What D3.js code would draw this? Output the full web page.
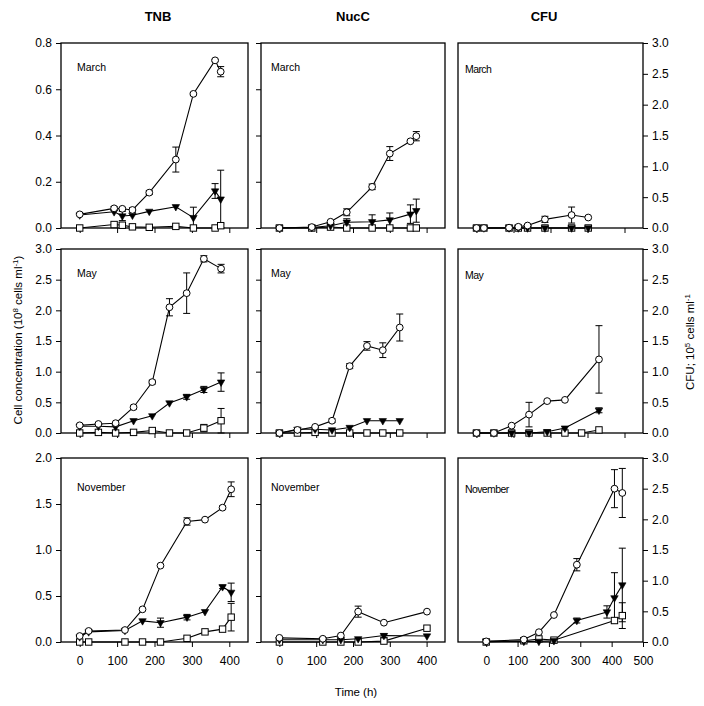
<!DOCTYPE html>
<html>
<head>
<meta charset="utf-8">
<script src="https://cdn.jsdelivr.net/npm/d3@7"></script>
<style>
  body { margin: 0; background: #fff; }
  text { font-family: "Liberation Sans", Arial, sans-serif; fill: #000; }
</style>
</head>
<body>
<svg id="chart"></svg>
<script>
// ---- data (time in h, values per panel) ----
// TNB
const marTnbTime = [0, 92, 114, 141, 186, 257, 304, 362, 377];
const marTnbCirc = [0.059, 0.085, 0.083, 0.078, 0.153, 0.296, 0.58, 0.725, 0.676];
const marTnbCircErr = [0, 0.008, 0.006, 0.01, 0.008, 0.054, 0.006, 0.004, 0.022];
const marTnbTri = [0.056, 0.07, 0.052, 0.055, 0.072, 0.092, 0.045, 0.16, 0.125];
const marTnbTriErr = [0, 0, 0.02, 0, 0, 0, 0.045, 0.032, 0.125];
const marTnbSq = [0, 0.015, 0.012, 0.005, 0.003, 0.007, 0, 0, 0.01];
const marTnbSqErr = [0, 0, 0.012, 0, 0, 0, 0, 0, 0.008];

const mayTnbTime = [0, 50, 96, 144, 194, 240, 286, 332, 378];
const mayTnbCirc = [0.125, 0.147, 0.16, 0.42, 0.83, 2.05, 2.28, 2.84, 2.68];
const mayTnbCircErr = [0, 0, 0, 0.03, 0.03, 0.14, 0.33, 0.05, 0.07];
const mayTnbTri = [0.11, 0.11, 0.10, 0.2, 0.28, 0.49, 0.59, 0.71, 0.83];
const mayTnbTriErr = [0, 0, 0, 0, 0, 0, 0.04, 0.05, 0.15];
const mayTnbSq = [0, 0.01, 0, 0.01, 0.04, 0, 0, 0.08, 0.2];
const mayTnbSqErr = [0, 0, 0, 0, 0.02, 0, 0, 0.06, 0.2];

const novTnbTime = [0, 24, 121, 168, 216, 287, 335, 382, 405];
const novTnbCirc = [0.065, 0.12, 0.13, 0.355, 0.83, 1.31, 1.33, 1.46, 1.66];
const novTnbCircErr = [0, 0, 0, 0, 0, 0.04, 0, 0.02, 0.08];
const novTnbTri = [0.055, 0.11, 0.125, 0.23, 0.21, 0.27, 0.33, 0.6, 0.54];
const novTnbTriErr = [0, 0, 0, 0, 0.05, 0.03, 0, 0.02, 0.1];
const novTnbSq = [0, 0, 0, 0, 0, 0.04, 0.11, 0.14, 0.27];
const novTnbSqErr = [0, 0, 0, 0, 0, 0, 0, 0, 0.15];

// NucC
const marNucTime = [0, 88, 139, 183, 252, 300, 356, 372];
const marNucCirc = [0, 0.004, 0.027, 0.068, 0.178, 0.322, 0.375, 0.397];
const marNucCircErr = [0, 0, 0.005, 0.015, 0.012, 0.03, 0.005, 0.02];
const marNucTri = [0, 0.002, 0.01, 0.025, 0.027, 0.035, 0.06, 0.075];
const marNucTriErr = [0, 0, 0, 0.015, 0.03, 0.03, 0.04, 0.05];
const marNucSq = [0, 0, 0.004, 0, 0, 0, 0, 0];
const marNucSqErr = [0, 0, 0, 0, 0, 0, 0, 0];

const mayNucTime = [0, 49, 97, 143, 191, 238, 281, 327];
const mayNucCirc = [0, 0.05, 0.1, 0.2, 1.09, 1.42, 1.35, 1.72];
const mayNucCircErr = [0, 0, 0, 0.03, 0.04, 0.07, 0.12, 0.22];
const mayNucTri = [0, 0.06, 0.06, 0.05, 0.09, 0.2, 0.2, 0.2];
const mayNucTriErr = [0, 0, 0, 0, 0, 0, 0, 0];
const mayNucSq = [0, 0, 0.01, 0, 0, 0, 0, 0];
const mayNucSqErr = [0, 0, 0, 0, 0, 0, 0, 0];

const novNucTime = [0, 118, 167, 214, 284, 401];
const novNucCirc = [0.045, 0.035, 0.07, 0.33, 0.21, 0.33];
const novNucCircErr = [0, 0, 0, 0.06, 0, 0];
const novNucTri = [0.025, 0.025, 0.025, 0.035, 0.07, 0.065];
const novNucTriErr = [0, 0, 0, 0, 0.02, 0];
const novNucSq = [0, 0, 0, 0, 0.01, 0.15];
const novNucSqErr = [0, 0, 0, 0, 0, 0];

// CFU
const marCfuTime = [0, 20, 88, 113, 138, 185, 257, 302];
const marCfuCirc = [0, 0, 0.005, 0.02, 0.04, 0.14, 0.21, 0.17];
const marCfuCircErr = [0, 0, 0, 0, 0, 0.05, 0.13, 0];
const marCfuTri = [0, 0, 0, 0, 0, 0, 0, 0];
const marCfuTriErr = [0, 0, 0, 0, 0, 0, 0, 0];
const marCfuSq = [0, 0, 0, 0, 0, 0, 0, 0];
const marCfuSqErr = [0, 0, 0, 0, 0, 0, 0, 0];

const mayCfuTime = [0, 47, 95, 142, 191, 239, 284, 331];
const mayCfuCirc = [0, 0, 0.12, 0.3, 0.52, 0.54, null, 1.2];
const mayCfuCircErr = [0, 0, 0, 0.2, 0, 0, 0, 0.55];
const mayCfuTri = [0, 0, 0, 0, 0.02, 0.08, null, 0.37];
const mayCfuTriErr = [0, 0, 0, 0, 0, 0, 0, 0.04];
const mayCfuSq = [0, 0, 0, 0, 0, 0, 0, 0.05];
const mayCfuSqErr = [0, 0, 0, 0, 0, 0, 0, 0];

const novCfuTime = [0, 120, 168, 216, 289, 385, 409, 434];
const novCfuCirc = [0.01, 0.04, 0.16, 0.44, 1.26, null, 2.5, 2.43];
const novCfuCircErr = [0, 0, 0, 0, 0.1, 0, 0.31, 0.4];
const novCfuTri = [0.01, 0.01, 0.01, 0.02, 0.35, 0.49, 0.72, 0.93];
const novCfuTriErr = [0, 0, 0, 0, 0.04, 0.1, 0.41, 0.6];
const novCfuSq = [0, 0.02, 0.05, 0.03, null, null, 0.35, 0.43];
const novCfuSqErr = [0, 0, 0, 0, 0, 0, 0, 0.21];

const columnTitles = ["TNB", "NucC", "CFU"];
const monthNames = ["March", "May", "November"];
const yMaxRow = [0.8, 3.0, 2.0];
const yTickStepRow = [0.2, 0.5, 0.5];
const cfuMax = 3.0;
const xTicks = [0, 100, 200, 300, 400];
const xTicksCfu = [0, 100, 200, 300, 400, 500];

// ---- layout ----
const W = 704, H = 706;
const colX = [[61, 248], [261, 445], [458, 643]];
const rowY = [[43, 228], [249, 433], [458, 642]];

function series(time, vals, errs) {
    return time.map((t, i) => ({ t: t, v: vals[i], e: errs[i] })).filter(d => d.v != null);
}

const panelData = [
    [[marTnbTime, marTnbCirc, marTnbCircErr, marTnbTri, marTnbTriErr, marTnbSq, marTnbSqErr],
     [marNucTime, marNucCirc, marNucCircErr, marNucTri, marNucTriErr, marNucSq, marNucSqErr],
     [marCfuTime, marCfuCirc, marCfuCircErr, marCfuTri, marCfuTriErr, marCfuSq, marCfuSqErr]],
    [[mayTnbTime, mayTnbCirc, mayTnbCircErr, mayTnbTri, mayTnbTriErr, mayTnbSq, mayTnbSqErr],
     [mayNucTime, mayNucCirc, mayNucCircErr, mayNucTri, mayNucTriErr, mayNucSq, mayNucSqErr],
     [mayCfuTime, mayCfuCirc, mayCfuCircErr, mayCfuTri, mayCfuTriErr, mayCfuSq, mayCfuSqErr]],
    [[novTnbTime, novTnbCirc, novTnbCircErr, novTnbTri, novTnbTriErr, novTnbSq, novTnbSqErr],
     [novNucTime, novNucCirc, novNucCircErr, novNucTri, novNucTriErr, novNucSq, novNucSqErr],
     [novCfuTime, novCfuCirc, novCfuCircErr, novCfuTri, novCfuTriErr, novCfuSq, novCfuSqErr]]
];

function drawPanel(svg, row, col) {
    let [x0, x1] = colX[col], [y0, y1] = rowY[row];
    let isCfu = col === 2;
    let xDomain = (isCfu && row === 2) ? [-90, 500] : [-50, 450];
    let x = d3.scaleLinear().domain(xDomain).range([x0, x1]);
    let yMax = isCfu ? cfuMax : yMaxRow[row];
    let step = isCfu ? 0.5 : yTickStepRow[row];
    let y = d3.scaleLinear().domain([0, yMax]).range([y1, y0]);
    let yTicks = d3.range(0, yMax + step / 2, step);

    let g = svg.append('g');

    // y axis
    if (isCfu) {
        g.append('g')
            .attr('transform', `translate(${x1},0)`)
            .call(d3.axisRight(y).tickValues(yTicks).tickSize(5).tickPadding(4).tickFormat(d3.format('.1f')))
            .call(a => a.select('.domain').remove());
    } else {
        g.append('g')
            .attr('transform', `translate(${x0},0)`)
            .call(d3.axisLeft(y).tickValues(yTicks).tickSize(5).tickPadding(4)
                .tickFormat(col === 0 ? d3.format('.1f') : ''))
            .call(a => a.select('.domain').remove());
    }
    // x axis
    let xt = (isCfu && row === 2) ? xTicksCfu : xTicks;
    g.append('g')
        .attr('transform', `translate(0,${y1})`)
        .call(d3.axisBottom(x).tickValues(xt).tickSize(5).tickPadding(9)
            .tickFormat(row === 2 ? d3.format('d') : ''))
        .call(a => a.select('.domain').remove());

    g.selectAll('.tick text').style('font-size', '12px').style('font-family', '"Liberation Sans", Arial, sans-serif');
    g.selectAll('.tick line').attr('stroke', '#000');

    // frame
    g.append('rect')
        .attr('x', x0).attr('y', y0)
        .attr('width', x1 - x0).attr('height', y1 - y0)
        .attr('fill', 'none').attr('stroke', '#000').attr('stroke-width', 1.3);

    // month label
    g.append('text')
        .attr('x', x0 + [16, 10, 7][col])
        .attr('y', y0 + [28, 28, 33][row] + (isCfu ? 2 : 0))
        .style('font-size', '10.5px')
        .style('letter-spacing', isCfu ? '-0.6px' : '0px')
        .text(monthNames[row]);

    let [time, circ, circErr, tri, triErr, sq, sqErr] = panelData[row][col];
    let sets = [
        { kind: 'sq', pts: series(time, sq, sqErr) },
        { kind: 'tri', pts: series(time, tri, triErr) },
        { kind: 'circ', pts: series(time, circ, circErr) }
    ];
    let line = d3.line().x(d => x(d.t)).y(d => y(d.v));

    sets.forEach(s => {
        g.append('path')
            .datum(s.pts)
            .attr('d', line)
            .attr('fill', 'none').attr('stroke', '#000').attr('stroke-width', 1.1);
    });
    sets.forEach(s => {
        let eb = g.selectAll(null).data(s.pts.filter(d => d.e > 0)).enter().append('g');
        eb.append('line')
            .attr('x1', d => x(d.t)).attr('x2', d => x(d.t))
            .attr('y1', d => y(d.v - d.e)).attr('y2', d => y(Math.min(yMax, d.v + d.e)))
            .attr('stroke', '#000');
        [-1, 1].forEach(sign => {
            eb.filter(d => sign < 0 || d.v + d.e <= yMax).append('line')
                .attr('x1', d => x(d.t) - 3.5).attr('x2', d => x(d.t) + 3.5)
                .attr('y1', d => y(d.v + sign * d.e)).attr('y2', d => y(d.v + sign * d.e))
                .attr('stroke', '#000');
        });
    });
    sets.forEach(s => {
        let m = g.selectAll(null).data(s.pts).enter();
        if (s.kind === 'circ') {
            m.append('circle')
                .attr('cx', d => x(d.t)).attr('cy', d => y(d.v)).attr('r', 3.4)
                .attr('fill', '#fff').attr('stroke', '#000').attr('stroke-width', 1);
        } else if (s.kind === 'sq') {
            m.append('rect')
                .attr('x', d => x(d.t) - 3.2).attr('y', d => y(d.v) - 3.2)
                .attr('width', 6.4).attr('height', 6.4)
                .attr('fill', '#fff').attr('stroke', '#000').attr('stroke-width', 1);
        } else {
            m.append('path')
                .attr('d', d3.symbol().type(d3.symbolTriangle).size(24))
                .attr('transform', d => `translate(${x(d.t)},${y(d.v)}) rotate(180)`)
                .attr('fill', '#000').attr('stroke', '#000').attr('stroke-width', 0.6);
        }
    });
}

function createFigure() {
    let svg = d3.select('#chart')
        .attr('width', W)
        .attr('height', H);

    svg.append('rect').attr('width', W).attr('height', H).attr('fill', '#fff');

    for (let r = 0; r < 3; r++) {
        for (let c = 0; c < 3; c++) drawPanel(svg, r, c);
    }

    // column titles
    svg.selectAll('.col-title')
        .data(columnTitles)
        .enter()
        .append('text')
        .attr('x', (d, i) => [158, 353, 544][i])
        .attr('y', 21)
        .attr('text-anchor', 'middle')
        .style('font-size', '13px')
        .style('font-weight', 'bold')
        .text(d => d);

    // x title
    svg.append('text')
        .attr('x', 356).attr('y', 696)
        .attr('text-anchor', 'middle')
        .style('font-size', '11.5px')
        .text('Time (h)');

    // left y title
    let lt = svg.append('text')
        .attr('transform', 'translate(22,340) rotate(-90)')
        .attr('text-anchor', 'middle')
        .style('font-size', '11.5px');
    lt.append('tspan').text('Cell concentration (10');
    lt.append('tspan').attr('dy', -4).style('font-size', '8px').text('8');
    lt.append('tspan').attr('dy', 4).text(' cells ml');
    lt.append('tspan').attr('dy', -4).style('font-size', '8px').text('-1');
    lt.append('tspan').attr('dy', 4).text(')');

    // right y title
    let rt = svg.append('text')
        .attr('transform', 'translate(694,342) rotate(-90)')
        .attr('text-anchor', 'middle')
        .style('font-size', '11.5px');
    rt.append('tspan').text('CFU; 10');
    rt.append('tspan').attr('dy', -4).style('font-size', '8px').text('5');
    rt.append('tspan').attr('dy', 4).text(' cells ml');
    rt.append('tspan').attr('dy', -4).style('font-size', '8px').text('-1');
}

window.onload = function() {
    createFigure();
}
</script>
</body>
</html>
